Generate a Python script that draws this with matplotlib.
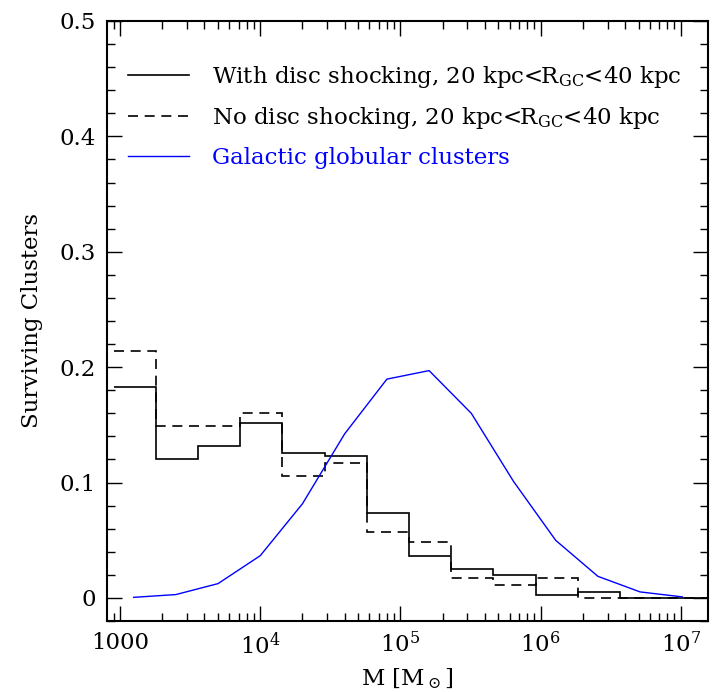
import numpy as np
import matplotlib
matplotlib.use("Agg")
import matplotlib.pyplot as plt
from matplotlib.ticker import FixedLocator, FixedFormatter, LogLocator, MultipleLocator

# bin edges (factor of 2 in mass)
edges = [900, 1800, 3600, 7200, 14400, 28800, 57600, 115200, 230400,
         460800, 921600, 1843200, 3686400, 7372800, 14745600, 29491200]

with_shock = [0.1827, 0.120, 0.1313, 0.1512, 0.1255, 0.1226, 0.0739, 0.0366,
              0.0254, 0.0196, 0.0023, 0.0052, 0.0, 0.0, 0.0]
no_shock = [0.2144, 0.1486, 0.1486, 0.1602, 0.1056, 0.1171, 0.0571, 0.0485,
            0.017, 0.0112, 0.017, 0.0, 0.0, 0.0, 0.0]

gc_mass = [1250, 2500, 5000, 1e4, 2e4, 4e4, 8e4, 1.6e5, 3.2e5, 6.4e5,
           1.28e6, 2.56e6, 5.12e6, 1.024e7]
gc_frac = [0.0005, 0.0029, 0.0124, 0.0366, 0.0816, 0.1422, 0.1896, 0.197,
           0.160, 0.101, 0.0499, 0.0187, 0.0052, 0.0009]

labels = [r"With disc shocking, 20 kpc<R$_{\rm GC}$<40 kpc",
          r"No disc shocking, 20 kpc<R$_{\rm GC}$<40 kpc",
          "Galactic globular clusters"]

xticks = [1e3, 1e4, 1e5, 1e6, 1e7]
xticklabels = ["1000", r"$10^4$", r"$10^5$", r"$10^6$", r"$10^7$"]
yticks = [0, 0.1, 0.2, 0.3, 0.4, 0.5]
yticklabels = ["0", "0.1", "0.2", "0.3", "0.4", "0.5"]

plt.rcParams["font.family"] = "DejaVu Serif"
plt.rcParams["mathtext.fontset"] = "dejavuserif"

fig = plt.figure(figsize=(7.17, 6.92), dpi=100)
ax = fig.add_axes([0.1492, 0.1026, 0.8382, 0.8671])

ax.stairs(with_shock, edges, baseline=None, color="black", lw=1.2,
          label=labels[0])
ax.stairs(no_shock, edges, baseline=None, color="black", lw=1.2,
          linestyle=(0, (6, 4)), label=labels[1])
ax.plot(gc_mass, gc_frac, color="blue", lw=1.0, label=labels[2])

ax.set_xscale("log")
ax.set_xlim(807, 1.56e7)
ax.set_ylim(-0.02, 0.5)

ax.xaxis.set_major_locator(FixedLocator(xticks))
ax.xaxis.set_major_formatter(FixedFormatter(xticklabels))
ax.xaxis.set_minor_locator(LogLocator(base=10, subs=np.arange(2, 10), numticks=20))
ax.xaxis.set_minor_formatter(FixedFormatter([]))
ax.set_yticks(yticks)
ax.set_yticklabels(yticklabels)
ax.yaxis.set_minor_locator(MultipleLocator(0.02))

ax.tick_params(which="both", direction="in", top=True, right=True,
               labelsize=16.5, width=1.0)
ax.tick_params(which="major", length=11, pad=8)
ax.tick_params(which="minor", length=6)
for s in ax.spines.values():
    s.set_linewidth(1.5)

ax.set_xlabel(r"M [M$_\odot$]", fontsize=16.5, labelpad=6)
ax.set_ylabel("Surviving Clusters", fontsize=16.5, labelpad=12)

leg = ax.legend(loc="upper left", bbox_to_anchor=(0.0, 0.963), frameon=False,
                fontsize=16.5, handlelength=2.7, handletextpad=1.0,
                labelspacing=0.68)
leg.get_texts()[2].set_color("blue")

fig.savefig("out.png", dpi=100)
